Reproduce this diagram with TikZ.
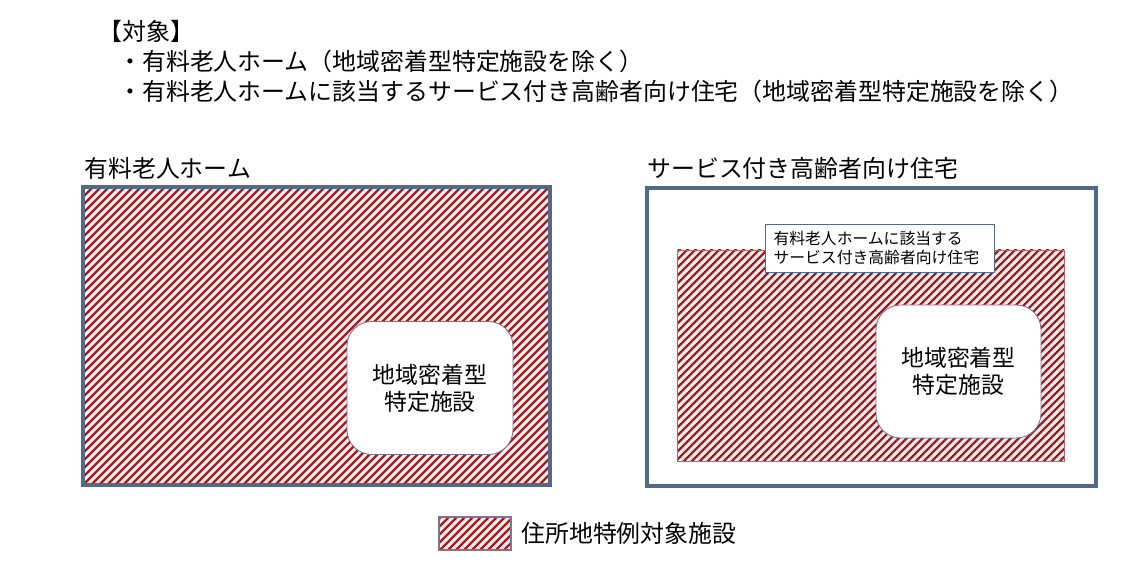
\documentclass[tikz,border=0pt]{standalone}
\usepackage{fontspec}
\setmainfont{Noto Sans CJK JP}
\usepackage{tikz}
\definecolor{frameblue}{RGB}{80,106,135}
\definecolor{hatchred}{RGB}{160,28,32}
\definecolor{hatchpink}{RGB}{255,238,238}
\definecolor{roundgray}{RGB}{125,115,145}
\newcommand{\bigtxt}{\fontsize{13.6}{17}\selectfont}
\newcommand{\midtxt}{\fontsize{13}{15.5}\selectfont}
\newcommand{\smalltxt}{\fontsize{9}{10.4}\selectfont}
\tikzset{
  frame/.style={draw=frameblue, line width=2pt},
  hatchline/.style={draw=hatchred, line width=1.4pt},
  roundbox/.style={draw=roundgray, line width=0.5pt, fill=white, rounded corners=14pt,
    align=center, inner sep=0pt, font=\midtxt},
  labelbox/.style={draw=frameblue, line width=0.5pt, fill=white, align=left, inner sep=0pt, font=\smalltxt},
  heading/.style={anchor=west, inner sep=0pt, font=\bigtxt}
}
% hatched area: #1 = left, #2 = top, #3 = right, #4 = bottom (pixel coords)
\newcommand{\hatchbox}[4]{%
  \begin{scope}
    \clip (#1,#2) rectangle (#3,#4);
    \fill [hatchpink] (#1,#2) rectangle (#3,#4);
    \pgfmathtruncatemacro{\hgt}{#4-#2}
    \pgfmathtruncatemacro{\xa}{#1-\hgt}
    \pgfmathtruncatemacro{\xb}{#1-\hgt+8}
    \foreach \x in {\xa,\xb,...,#3}
      \draw [hatchline] (\x,#4+2) -- (\x+\hgt+4,#2-2);
  \end{scope}}

\begin{document}
\begin{tikzpicture}[x=0.02cm, y=-0.02cm]
    \useasboundingbox (0,0) rectangle (1137,577);
    % heading text
    \node [heading] (target) at (98,31) {【対象】};
    \node [heading] (item1) at (118,61) {・有料老人ホーム（地域密着型特定施設を除く）};
    \node [heading] (item2) at (118,91) {・有料老人ホームに該当するサービス付き高齢者向け住宅（地域密着型特定施設を除く）};
    % left: yuryo rojin home
    \node [heading] (homelabel) at (84,168) {有料老人ホーム};
    \hatchbox{83}{187}{550}{485}
    \draw [frame] (83,187) rectangle (550,485);
    \node [roundbox, minimum width=166*0.02cm, minimum height=133*0.02cm] (localA) at (430,388) {地域密着型\\特定施設};
    % right: service-tsuki koreisha muke jutaku
    \node [heading] (sakolabel) at (647,168) {サービス付き高齢者向け住宅};
    \draw [frame] (647,188) rectangle (1096,486);
    \hatchbox{677}{250}{1064}{461}
    \draw [hatchred!70!white, line width=0.3pt] (677,250) rectangle (1064,461);
    \node [labelbox, minimum width=229*0.02cm, minimum height=48*0.02cm, text width=212*0.02cm] (sakoyuryo) at (879.5,248) {有料老人ホームに該当する\\サービス付き高齢者向け住宅};
    \node [roundbox, minimum width=165*0.02cm, minimum height=133*0.02cm] (localB) at (958.5,371.5) {地域密着型\\特定施設};
    % legend
    \hatchbox{439}{517}{511}{550}
    \draw [roundgray, line width=0.6pt] (439,517) rectangle (511,550);
    \node [heading] (legend) at (521,533) {住所地特例対象施設};
\end{tikzpicture}
\end{document}
